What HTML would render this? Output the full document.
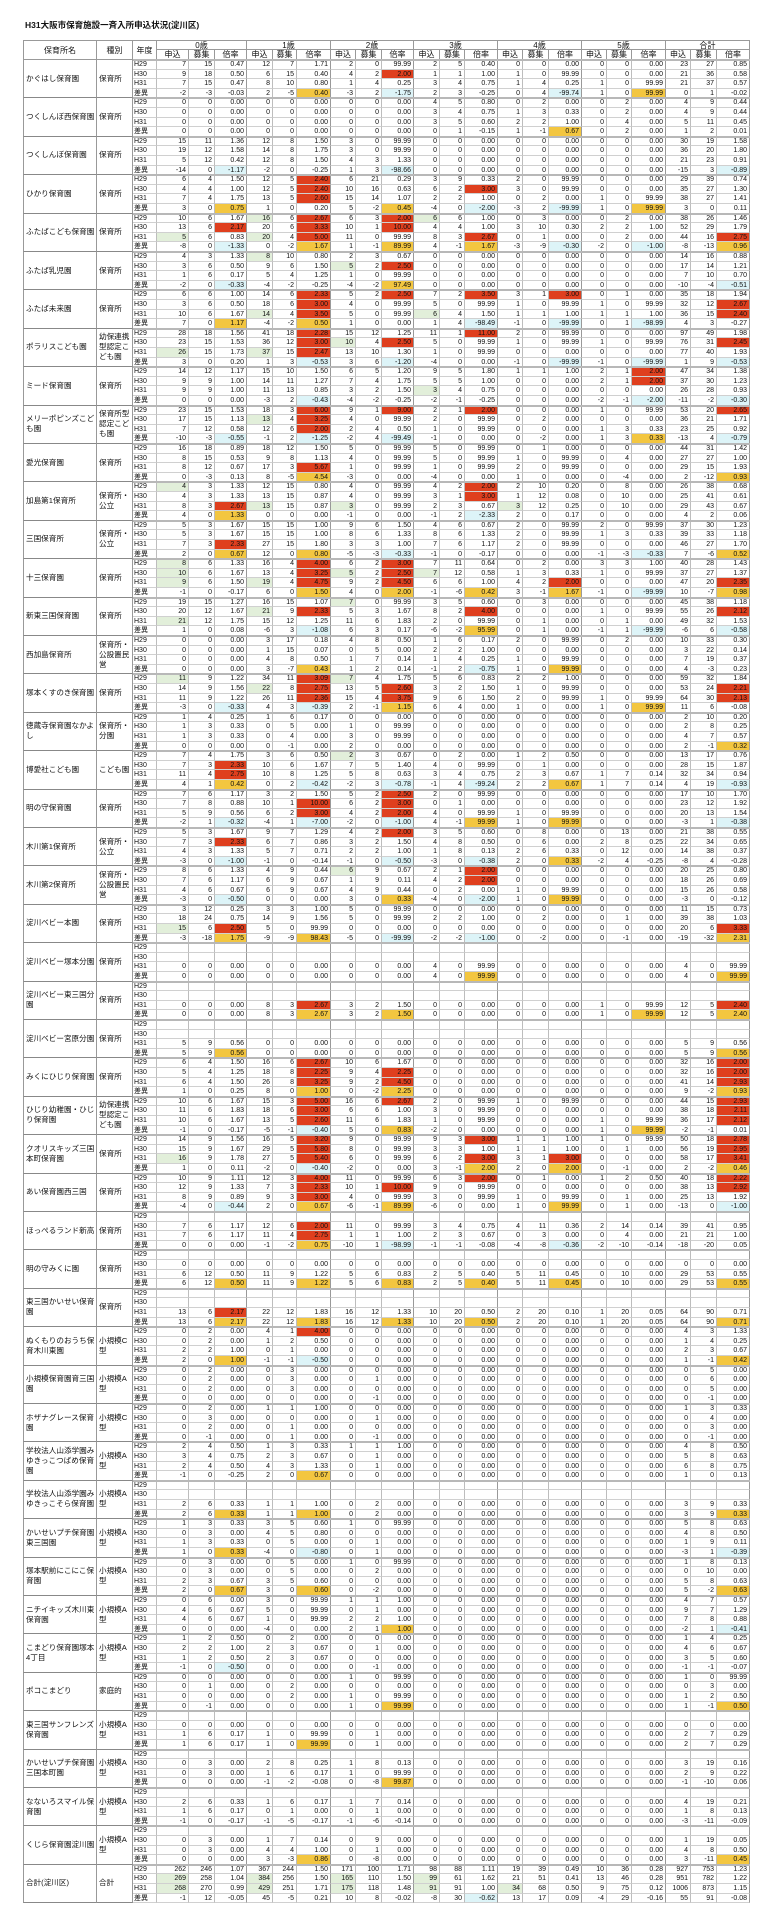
<!DOCTYPE html>
<html><head><meta charset="utf-8">
<style>
html,body{margin:0;padding:0;background:#fff;}
body{width:768px;height:1924px;position:relative;overflow:hidden;font-family:"Liberation Sans","Noto Sans CJK JP",sans-serif;color:#111;}
.c{position:absolute;box-sizing:border-box;border-right:1px solid #bdbdbd;border-bottom:1px solid #d0d0d0;font-size:7px;line-height:9px;white-space:nowrap;overflow:hidden;}
.n{text-align:right;padding-right:2px;}
.c.h{text-align:center;font-size:8px;line-height:9px;border-color:#999;}
.nm{white-space:normal;font-size:7.6px;line-height:10px;padding-left:2px;display:flex;align-items:center;border-bottom:1px solid #888;border-right:1px solid #999;}
.r{background:#df3f1e;}
.y{background:#f3c640;}
.g{background:#e2efda;}
.q{background:#ddf4f8;}
.sep{position:absolute;height:2px;background:#b8b8b8;}
#title{position:absolute;left:25px;top:19px;font-size:8.5px;font-weight:bold;}
</style></head><body>
<div id="title">H31大阪市保育施設一斉入所申込状況(淀川区)</div>
<div id="t"></div>
<script>
var X=[157,189,215,247,273,297,331,356,382,414,440,465,498,523,549,582,607,632,666,691,717,750];
var G=[
["かぐはし保育園","保育所",["7 15 0.47 12 7 1.71 2 0 99.99 2 5 0.40 Z Z 23 27 0.85","9 18 0.50 6 15 0.40 4 2 2.00r 1 1 1.00 1 0 99.99 Z 21 36 0.58","7 15 0.47 8 10 0.80 1 4 0.25 3 4 0.75 1 4 0.25 1 0 99.99 21 37 0.57","-2 -3 -0.03 2 -5 0.40y -3 2 -1.75q 2 3 -0.25 0 4 -99.74q 1 0 99.99y 0 1 -0.02"]],
["つくしんぼ西保育園","保育所",["Z Z Z 4 5 0.80 0 2 0.00 0 2 0.00 4 9 0.44","Z Z Z 3 4 0.75 1 3 0.33 0 2 0.00 4 9 0.44","Z Z Z 3 5 0.60 2 2 1.00 0 4 0.00 5 11 0.45","Z Z Z 0 1 -0.15 1 -1 0.67y 0 2 0.00 1 2 0.01"]],
["つくしんぼ保育園","保育所",["15 11 1.36 12 8 1.50 3 0 99.99 Z Z Z 30 19 1.58","19 12 1.58 14 8 1.75 3 0 99.99 Z Z Z 36 20 1.80","5 12 0.42 12 8 1.50 4 3 1.33 Z Z Z 21 23 0.91","-14 0 -1.17q -2 0 -0.25 1 3 -98.66q Z Z Z -15 3 -0.89q"]],
["ひかり保育園","保育所",["6 4 1.50 12 5 2.40r 6 21 0.29 3 9 0.33 2 0 99.99 Z 29 39 0.74","4 4 1.00 12 5 2.40r 10 16 0.63 6 2 3.00r 3 0 99.99 Z 35 27 1.30","7 4 1.75 13 5 2.60r 15 14 1.07 2 2 1.00 0 2 0.00 1 0 99.99 38 27 1.41","3 0 0.75y 1 0 0.20 5 -2 0.45y -4 0 -2.00q -3 2 -99.99q 1 0 99.99y 3 0 0.11"]],
["ふたばこども保育園","保育所",["10 6 1.67 16g 6 2.67r 6 3 2.00r 6g 6 1.00 0 3 0.00 0 2 0.00 38 26 1.46","13 6 2.17r 20 6 3.33r 10 1 10.00r 4 4 1.00 3 10 0.30 2 2 1.00 52 29 1.79","5g 6 0.83 20g 4 5.00r 11 0 99.99 8 3 2.67r 0 1 0.00 0 2 0.00 44 16 2.75r","-8 0 -1.33q 0 -2 1.67y 1 -1 89.99y 4 -1 1.67y -3 -9 -0.30q -2 0 -1.00q -8 -13 0.96y"]],
["ふたば乳児園","保育所",["4 3 1.33 8g 10 0.80 2 3 0.67 Z Z Z 14 16 0.88","3 6 0.50 9 6 1.50 5g 2 2.50r Z Z Z 17 14 1.21","1 6 0.17 5 4 1.25 1 0 99.99 Z Z Z 7 10 0.70","-2 0 -0.33q -4 -2 -0.25 -4 -2 97.49y Z Z Z -10 -4 -0.51q"]],
["ふたば未来園","保育所",["6 6 1.00 14 6 2.33r 5 2 2.50r 7 2 3.50r 3 1 3.00r 0 1 0.00 35 18 1.94","3 6 0.50 18 6 3.00r 4 0 99.99 5 0 99.99 1 0 99.99 1 0 99.99 32 12 2.67r","10 6 1.67 14g 4 3.50r 5 0 99.99 6g 4 1.50 1 1 1.00 1 1 1.00 36 15 2.40r","7 0 1.17y -4 -2 0.50y 1 0 0.00 1 4 -98.49q -1 0 -99.99q 0 1 -98.99q 4 3 -0.27"]],
["ポラリスこども園","幼保連携型認定こども園",["28 18 1.56 41 18 2.28r 15 12 1.25 11 1 11.00r 2 0 99.99 Z 97 49 1.98","23 15 1.53 36 12 3.00r 10g 4 2.50r 5 0 99.99 1 0 99.99 1 0 99.99 76 31 2.45r","26g 15 1.73 37g 15 2.47r 13 10 1.30 1 0 99.99 Z Z 77 40 1.93","3 0 0.20 1 3 -0.53q 3 6 -1.20q -4 0 0.00 -1 0 -99.99q -1 0 -99.99q 1 9 -0.53q"]],
["ミード保育園","保育所",["14 12 1.17 15 10 1.50 6 5 1.20 9 5 1.80 1 1 1.00 2 1 2.00r 47 34 1.38","9 9 1.00 14 11 1.27 7 4 1.75 5 5 1.00 Z 2 1 2.00r 37 30 1.23","9 9 1.00 11 13 0.85 3 2 1.50 3g 4 0.75 Z Z 26 28 0.93","0 0 0.00 -3 2 -0.43q -4 -2 -0.25 -2 -1 -0.25 Z -2 -1 -2.00q -11 -2 -0.30q"]],
["メリーポピンズこども園","保育所型認定こども園",["23 15 1.53 18 3 6.00r 9 1 9.00r 2 1 2.00r Z 1 0 99.99 53 20 2.65r","17 15 1.13 13g 4 3.25r 4 0 99.99 2 0 99.99 0 2 0.00 Z 36 21 1.71","7 12 0.58 12 6 2.00r 2 4 0.50 1 0 99.99 Z 1 3 0.33 23 25 0.92","-10 -3 -0.55q -1 2 -1.25q -2 4 -99.49q -1 0 0.00 0 -2 0.00 1 3 0.33y -13 4 -0.79q"]],
["愛光保育園","保育所",["16 18 0.89 18 12 1.50 5 0 99.99 5 0 99.99 0 1 0.00 Z 44 31 1.42","8 15 0.53 9 8 1.13 4 0 99.99 5 0 99.99 1 0 99.99 0 4 0.00 27 27 1.00","8 12 0.67 17 3 5.67r 1 0 99.99 1 0 99.99 2 0 99.99 Z 29 15 1.93","0 -3 0.13 8 -5 4.54y -3 0 0.00 -4 0 0.00 1 0 0.00 0 -4 0.00 2 -12 0.93y"]],
["加島第1保育所","保育所・公立",["4g 3 1.33 12 15 0.80 4 0 99.99 4 2 2.00r 2 10 0.20 0 8 0.00 26 38 0.68","4 3 1.33 13 15 0.87 4 0 99.99 3 1 3.00r 1 12 0.08 0 10 0.00 25 41 0.61","8 3 2.67r 13g 15 0.87 3g 0 99.99 2 3 0.67 3g 12 0.25 0 10 0.00 29 43 0.67","4 0 1.33y 0 0 0.00 -1 0 0.00 -1 2 -2.33q 2 0 0.17 Z 4 2 0.06"]],
["三国保育所","保育所・公立",["5 3 1.67 15 15 1.00 9 6 1.50 4 6 0.67 2 0 99.99 2 0 99.99 37 30 1.23","5 3 1.67 15 15 1.00 8 6 1.33 8 6 1.33 2 0 99.99 1 3 0.33 39 33 1.18","7 3 2.33r 27 15 1.80 3 3 1.00 7 6 1.17 2 0 99.99 Z 46 27 1.70","2 0 0.67y 12 0 0.80y -5 -3 -0.33q -1 0 -0.17 Z -1 -3 -0.33q 7 -6 0.52y"]],
["十三保育園","保育所",["8g 6 1.33 16 4 4.00r 6 2 3.00r 7 11 0.64 0 2 0.00 3 3 1.00 40 28 1.43","10g 6 1.67 13 4 3.25r 5g 2 2.50r 7g 12 0.58 1 3 0.33 1 0 99.99 37 27 1.37","9g 6 1.50 19g 4 4.75r 9 2 4.50r 6 6 1.00 4 2 2.00r Z 47 20 2.35r","-1 0 -0.17 6 0 1.50y 4 0 2.00y -1 -6 0.42y 3 -1 1.67y -1 0 -99.99q 10 -7 0.98y"]],
["新東三国保育園","保育所",["19 15 1.27 16 15 1.07 7g 0 99.99 3 5 0.60 0 3 0.00 Z 45 38 1.18","20 12 1.67 21g 9 2.33r 5 3 1.67 8 2 4.00r Z 1 0 99.99 55 26 2.12r","21g 12 1.75 15 12 1.25 11 6 1.83 2 0 99.99 0 1 0.00 0 1 0.00 49 32 1.53","1 0 0.08 -6 3 -1.08q 6 3 0.17 -6 -2 95.99y 0 1 0.00 -1 1 -99.99q -6 6 -0.58q"]],
["西加島保育所","保育所・公設置民営",["Z 3 17 0.18 4 8 0.50 1 6 0.17 2 0 99.99 0 2 0.00 10 33 0.30","Z 1 15 0.07 0 5 0.00 2 2 1.00 Z Z 3 22 0.14","Z 4 8 0.50 1 7 0.14 1 4 0.25 1 0 99.99 Z 7 19 0.37","Z 3 -7 0.43y 1 2 0.14 -1 2 -0.75q 1 0 99.99y Z 4 -3 0.23"]],
["塚本くすのき保育園","保育所",["11g 9 1.22 34 11 3.09r 7g 4 1.75 5 6 0.83 2 2 1.00 Z 59 32 1.84","14 9 1.56 22g 8 2.75r 13 5 2.60r 3 2 1.50 1 0 99.99 Z 53 24 2.21r","11 9 1.22 26 11 2.36r 15 4 3.75r 9 6 1.50 2 0 99.99 1 0 99.99 64 30 2.13r","-3 0 -0.33q 4 3 -0.39q 2 -1 1.15y 6 4 0.00 1 0 0.00 1 0 99.99y 11 6 -0.08"]],
["徳蔵寺保育園なかよし","保育所・分園",["1 4 0.25 1 6 0.17 Z Z Z Z 2 10 0.20","1 3 0.33 0 5 0.00 1 0 99.99 Z Z Z 2 8 0.25","1 3 0.33 0 4 0.00 3 0 99.99 Z Z Z 4 7 0.57","Z 0 -1 0.00 2 0 0.00 Z Z Z 2 -1 0.32y"]],
["博愛社こども園","こども園",["7 4 1.75 3 6 0.50 2g 3 0.67 0 2 0.00 1 2 0.50 Z 13 17 0.76","7 3 2.33r 10 6 1.67 7 5 1.40 4 0 99.99 0 1 0.00 Z 28 15 1.87","11 4 2.75r 10 8 1.25 5 8 0.63 3 4 0.75 2 3 0.67 1 7 0.14 32 34 0.94","4 1 0.42y 0 2 -0.42q -2 3 -0.78q -1 4 -99.24q 2 2 0.67y 1 7 0.14 4 19 -0.93q"]],
["明の守保育園","保育所",["7 6 1.17 3 2 1.50 5 2 2.50r 2 0 99.99 Z Z 17 10 1.70","7 8 0.88 10 1 10.00r 6 2 3.00r 0 1 0.00 Z Z 23 12 1.92","5 9 0.56 6 2 3.00r 4 2 2.00r 4 0 99.99 1 0 99.99 Z 20 13 1.54","-2 1 -0.32q -4 1 -7.00q -2 0 -1.00q 4 -1 99.99y 1 0 99.99y Z -3 1 -0.38q"]],
["木川第1保育所","保育所・公立",["5 3 1.67 9 7 1.29 4 2 2.00r 3 5 0.60 0 8 0.00 0 13 0.00 21 38 0.55","7 3 2.33r 6 7 0.86 3 2 1.50 4 8 0.50 0 6 0.00 2 8 0.25 22 34 0.65","4 3 1.33 5 7 0.71 2 2 1.00 1 8 0.13 2 6 0.33 0 12 0.00 14 38 0.37","-3 0 -1.00q -1 0 -0.14 -1 0 -0.50q -3 0 -0.38q 2 0 0.33y -2 4 -0.25 -8 4 -0.28"]],
["木川第2保育所","保育所・公設置民営",["8 6 1.33 4 9 0.44 6g 9 0.67 2 1 2.00r Z Z 20 25 0.80","7 6 1.17 6 9 0.67 1 9 0.11 4 2 2.00r Z Z 18 26 0.69","4 6 0.67 6 9 0.67 4 9 0.44 0 2 0.00 1 0 99.99 Z 15 26 0.58","-3 0 -0.50q 0 0 0.00 3 0 0.33y -4 0 -2.00q 1 0 99.99y Z -3 0 -0.12"]],
["淀川ベビー本園","保育所",["3 12 0.25 3 3 1.00 5 0 99.99 Z Z Z 11 15 0.73","18 24 0.75 14 9 1.56 5 0 99.99 2 2 1.00 0 2 0.00 0 1 0.00 39 38 1.03","15g 6 2.50r 5 0 99.99 Z Z Z Z 20 6 3.33r","-3 -18 1.75y -9 -9 98.43y -5 0 -99.99q -2 -2 -1.00q 0 -2 0.00 0 -1 0.00 -19 -32 2.31y"]],
["淀川ベビー塚本分園","保育所",["-","-","Z Z Z 4 0 99.99 Z Z 4 0 99.99","Z Z Z 4 0 99.99y Z Z 4 0 99.99y"]],
["淀川ベビー東三国分園","保育所",["-","-","Z 8 3 2.67r 3 2 1.50 Z Z 1 0 99.99 12 5 2.40r","Z 8 3 2.67y 3 2 1.50y Z Z 1 0 99.99y 12 5 2.40y"]],
["淀川ベビー宮原分園","保育所",["-","-","5 9 0.56 Z Z Z Z Z 5 9 0.56","5 9 0.56y Z Z Z Z Z 5 9 0.56y"]],
["みくにひじり保育園","保育所",["6 4 1.50 16 6 2.67r 10 6 1.67 Z Z Z 32 16 2.00r","5 4 1.25 18 8 2.25r 9 4 2.25r Z Z Z 32 16 2.00r","6 4 1.50 26 8 3.25r 9 2 4.50r Z Z Z 41 14 2.93r","1 0 0.25 8 0 1.00y 0 -2 2.25y Z Z Z 9 -2 0.93y"]],
["ひじり幼稚園・ひじり保育園","幼保連携型認定こども園",["10 6 1.67 15 3 5.00r 16 6 2.67r 2 0 99.99 1 0 99.99 Z 44 15 2.93r","11 6 1.83 18 6 3.00r 6 6 1.00 3 0 99.99 Z Z 38 18 2.11r","10 6 1.67 13 5 2.60r 11 6 1.83 1 0 99.99 Z 1 0 99.99 36 17 2.12r","-1 0 -0.17 -5 -1 -0.40q 5 0 0.83y -2 0 0.00 Z 1 0 99.99y -2 -1 0.01"]],
["クオリスキッズ三国本町保育園","保育所",["14 9 1.56 16 5 3.20r 9 0 99.99 9 3 3.00r 1 1 1.00 1 0 99.99 50 18 2.78r","15 9 1.67 29 5 5.80r 8 0 99.99 3 3 1.00 1 1 1.00 0 1 0.00 56 19 2.95r","16g 9 1.78 27 5 5.40r 6 0 99.99 6 2 3.00r 3 1 3.00r Z 58 17 3.41r","1 0 0.11 -2 0 -0.40q -2 0 0.00 3 -1 2.00y 2 0 2.00y 0 -1 0.00 2 -2 0.46y"]],
["あい保育園西三国","保育所",["10 9 1.11 12 3 4.00r 11 0 99.99 6 3 2.00r 0 1 0.00 1 2 0.50 40 18 2.22r","12 9 1.33 7 3 2.33r 10 1 10.00r 9 0 99.99 Z Z 38 13 2.92r","8 9 0.89 9 3 3.00r 4 0 99.99 3 0 99.99 1 0 99.99 0 1 0.00 25 13 1.92","-4 0 -0.44q 2 0 0.67y -6 -1 89.99y -6 0 0.00 1 0 99.99y 0 1 0.00 -13 0 -1.00q"]],
["ほっぺるランド新高","保育所",["-","7 6 1.17 12 6 2.00r 11 0 99.99 3 4 0.75 4 11 0.36 2 14 0.14 39 41 0.95","7 6 1.17 11 4 2.75r 1 1 1.00 2 3 0.67 0 3 0.00 0 4 0.00 21 21 1.00","0 0 0.00 -1 -2 0.75y -10 1 -98.99q -1 -1 -0.08 -4 -8 -0.36q -2 -10 -0.14 -18 -20 0.05"]],
["明の守みくに園","保育所",["-","Z Z Z Z Z Z Z","6 12 0.50 11 9 1.22 5 6 0.83 2 5 0.40 5 11 0.45 0 10 0.00 29 53 0.55","6 12 0.50y 11 9 1.22y 5 6 0.83y 2 5 0.40y 5 11 0.45y 0 10 0.00 29 53 0.55y"]],
["東三国かいせい保育園","保育所",["-","-","13 6 2.17r 22 12 1.83 16 12 1.33 10 20 0.50 2 20 0.10 1 20 0.05 64 90 0.71","13 6 2.17y 22 12 1.83y 16 12 1.33y 10 20 0.50y 2 20 0.10 1 20 0.05 64 90 0.71y"]],
["ぬくもりのおうち保育木川東園","小規模C型",["0 2 0.00 4 1 4.00r Z Z Z Z 4 3 1.33","0 2 0.00 1 2 0.50 Z Z Z Z 1 4 0.25","2 2 1.00 0 1 0.00 Z Z Z Z 2 3 0.67","2 0 1.00y -1 -1 -0.50q Z Z Z Z 1 -1 0.42y"]],
["小規模保育園育三国園","小規模A型",["0 2 0.00 0 3 0.00 Z Z Z Z 0 5 0.00","0 2 0.00 0 3 0.00 0 1 0.00 Z Z Z 0 6 0.00","0 2 0.00 0 3 0.00 Z Z Z Z 0 5 0.00","Z Z 0 -1 0.00 Z Z Z 0 -1 0.00"]],
["ホザナグレース保育園","小規模C型",["0 2 0.00 1 1 1.00 Z Z Z Z 1 3 0.33","0 3 0.00 Z 0 1 0.00 Z Z Z 0 4 0.00","0 2 0.00 0 1 0.00 Z Z Z Z 0 3 0.00","0 -1 0.00 0 1 0.00 0 -1 0.00 Z Z Z 0 -1 0.00"]],
["学校法人山添学園みゆきっこつばめ保育園","小規模A型",["2 4 0.50 1 3 0.33 1 1 1.00 Z Z Z 4 8 0.50","3 4 0.75 2 3 0.67 0 1 0.00 Z Z Z 5 8 0.63","2 4 0.50 4 3 1.33 0 1 0.00 Z Z Z 6 8 0.75","-1 0 -0.25 2 0 0.67y Z Z Z Z 1 0 0.13"]],
["学校法人山添学園みゆきっこそら保育園","小規模A型",["-","-","2 6 0.33 1 1 1.00 0 2 0.00 Z Z Z 3 9 0.33","2 6 0.33y 1 1 1.00y 0 2 0.00 Z Z Z 3 9 0.33y"]],
["かいせいプチ保育園東三国園","小規模A型",["1 3 0.33 3 5 0.60 1 0 99.99 Z Z Z 5 8 0.63","0 3 0.00 4 5 0.80 Z Z Z Z 4 8 0.50","1 3 0.33 0 5 0.00 0 1 0.00 Z Z Z 1 9 0.11","1 0 0.33y -4 0 -0.80q 0 1 0.00 Z Z Z -3 1 -0.39q"]],
["塚本駅前にこにこ保育園","小規模A型",["0 3 0.00 0 5 0.00 1 0 99.99 Z Z Z 1 8 0.13","0 3 0.00 0 5 0.00 0 2 0.00 Z Z Z 0 10 0.00","2 3 0.67 3 5 0.60 Z Z Z Z 5 8 0.63","2 0 0.67y 3 0 0.60y 0 -2 0.00 Z Z Z 5 -2 0.63y"]],
["ニチイキッズ木川東保育園","小規模A型",["0 6 0.00 3 0 99.99 1 1 1.00 Z Z Z 4 7 0.57","4 6 0.67 5 0 99.99 0 1 0.00 Z Z Z 9 7 1.29","4 6 0.67 1 0 99.99 2 2 1.00 Z Z Z 7 8 0.88","Z -4 0 0.00 2 1 1.00y Z Z Z -2 1 -0.41q"]],
["こまどり保育園塚本4丁目","小規模A型",["1 2 0.50 0 2 0.00 Z Z Z Z 1 4 0.25","2 2 1.00 2 3 0.67 0 1 0.00 Z Z Z 4 6 0.67","1 2 0.50 2 3 0.67 Z Z Z Z 3 5 0.60","-1 0 -0.50q Z 0 -1 0.00 Z Z Z -1 -1 -0.07"]],
["ポコこまどり","家庭的",["Z Z 1 0 99.99 Z Z Z 1 0 99.99","0 1 0.00 0 2 0.00 Z Z Z Z 0 3 0.00","Z 0 2 0.00 1 0 99.99 Z Z Z 1 2 0.50","0 -1 0.00 Z 1 0 99.99y Z Z Z 1 -1 0.50y"]],
["東三国サンフレンズ保育園","小規模A型",["-","Z Z Z Z Z Z Z","1 6 0.17 1 0 99.99 0 1 0.00 Z Z Z 2 7 0.29","1 6 0.17 1 0 99.99y 0 1 0.00 Z Z Z 2 7 0.29"]],
["かいせいプチ保育園三国本町園","小規模A型",["-","0 3 0.00 2 8 0.25 1 8 0.13 Z Z Z 3 19 0.16","0 3 0.00 1 6 0.17 1 0 99.99 Z Z Z 2 9 0.22","Z -1 -2 -0.08 0 -8 99.87y Z Z Z -1 -10 0.06"]],
["なないろスマイル保育園","小規模A型",["-","2 6 0.33 1 6 0.17 1 7 0.14 Z Z Z 4 19 0.21","1 6 0.17 0 1 0.00 0 1 0.00 Z Z Z 1 8 0.13","-1 0 -0.17 -1 -5 -0.17 -1 -6 -0.14 Z Z Z -3 -11 -0.09"]],
["くじら保育園淀川園","小規模A型",["-","0 3 0.00 1 7 0.14 0 9 0.00 Z Z Z 1 19 0.05","0 3 0.00 4 4 1.00 0 1 0.00 Z Z Z 4 8 0.50","Z 3 -3 0.86y 0 -8 0.00 Z Z Z 3 -11 0.45y"]],
["合計(淀川区)","合計",["262 246 1.07 367 244 1.50 171 100 1.71 98 88 1.11 19 39 0.49 10 36 0.28 927 753 1.23","269g 258 1.04 384g 256 1.50 165g 110 1.50 99g 61 1.62 21 51 0.41 13 46 0.28 951 782 1.22","268g 270 0.99 429g 251 1.71 175g 118 1.48 91g 91 1.00 34g 68 0.50 9 75 0.12 1006 873 1.15","-1 12 -0.05 45 -5 0.21 10 8 -0.02 -8 30 -0.62q 13 17 0.09 -4 29 -0.16 55 91 -0.08"]]
];
var root=document.getElementById('t');
function cell(x,y,w,h,txt,cls){var d=document.createElement('div');d.className='c '+(cls||'');d.style.left=x+'px';d.style.top=y+'px';d.style.width=w+'px';d.style.height=h+'px';if(txt!=null)d.textContent=txt;root.appendChild(d);return d;}
function hc(x,y,w,h,txt){var d=cell(x,y,w,h,txt,'h');d.style.textAlign='center';return d;}
var hL=hc(23,40,74,20,'保育所名');hL.style.borderLeft='1px solid #999';hL.style.borderTop='1px solid #999';hL.style.lineHeight='19px';
var h2=hc(97,40,36,20,'種別');h2.style.borderTop='1px solid #999';h2.style.lineHeight='19px';
var h3=hc(133,40,24,20,'年度');h3.style.borderTop='1px solid #999';h3.style.lineHeight='19px';
var ages=['0歳','1歳','2歳','3歳','4歳','5歳','合計'];
for(var a=0;a<7;a++){var x0=X[a*3],x1=X[a*3+3];var hh=hc(x0,40,x1-x0,10,ages[a]);hh.style.borderTop='1px solid #999';
 var sub=['申込','募集','倍率'];for(var k=0;k<3;k++){hc(X[a*3+k],50,X[a*3+k+1]-X[a*3+k],10,sub[k]);}}
var RH=9.6,top0=60,yrs=['H29','H30','H31','差異'];
for(var g=0;g<G.length;g++){
 var gy=top0+g*4*RH;
 var nm=cell(23,gy,74,4*RH,G[g][0],'nm');nm.style.borderLeft='1px solid #999';
 cell(97,gy,36,4*RH,G[g][1],'nm');
 for(var r=0;r<4;r++){
  var y=gy+r*RH;
  cell(133,y,24,RH,yrs[r],'').style.paddingLeft='1px';
  var s=G[g][2][r];var vals=[];
  if(s!=='-'){s.split(' ').forEach(function(t){if(t==='Z'){vals.push('0','0','0.00');}else vals.push(t);});}
  for(var k=0;k<21;k++){
   var t=vals[k]||'';var cl='n';var m=t.match(/^(.*?)([rygq])$/);
   if(m){t=m[1];cl+=' '+m[2];}
   var d=cell(X[k],y,X[k+1]-X[k],RH,t,cl);
   if(k%3===2)d.style.borderRight='1px solid #999';
  }
 }
 var sp=document.createElement('div');sp.className='sep';sp.style.left='133px';sp.style.width='617px';sp.style.top=(gy-1)+'px';root.appendChild(sp);
}
</script>
</body></html>
